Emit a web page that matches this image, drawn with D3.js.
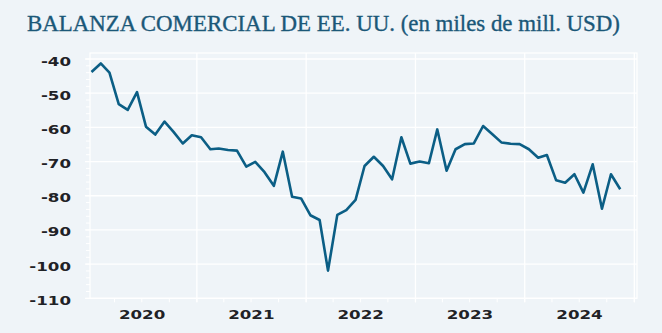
<!DOCTYPE html>
<html><head><meta charset="utf-8">
<script src="https://cdn.jsdelivr.net/npm/d3@7"></script>
<style>
html,body{margin:0;padding:0;background:#eff4f8;}
svg{display:block;}
</style></head>
<body>
<svg id="chart" width="662" height="333"></svg>
<script>
const title = "BALANZA COMERCIAL DE EE. UU. (en miles de mill. USD)";
const startYear = 2020, startMonth = 0; // first observation: Jan 2020
const values = [
  -43.8, -41.3, -44.0, -53.2, -54.9, -49.7, -59.8, -62.1, -58.3, -61.3, -64.7, -62.3,
  -62.9, -66.4, -66.2, -66.6, -66.8, -71.5, -70.1, -73.1, -77.1, -67.1, -80.3, -80.8,
  -85.7, -87.1, -101.9, -85.6, -84.2, -81.2, -71.3, -68.6, -71.3, -75.2, -62.9, -70.6,
  -70.0, -70.5, -60.6, -72.7, -66.4, -64.9, -64.7, -59.6, -62.0, -64.4, -64.8, -64.9,
  -66.4, -68.9, -68.1, -75.5, -76.2, -73.7, -79.1, -70.8, -83.8, -73.7, -78.1
];
const yTicks = [-40, -50, -60, -70, -80, -90, -100, -110];
const xTickYears = [2020, 2021, 2022, 2023, 2024];

(function(){
const data = values.map((v, i) => ({date: new Date(Date.UTC(startYear, startMonth + i, 15)), value: v}));

const svg = d3.select("#chart");
const bg = "#eff4f8";
const pL = 90, pR = 637, pT = 53, pB = 298.3;

const x = d3.scaleUtc()
  .domain([new Date(Date.UTC(2020,0,1)), new Date(Date.UTC(2025,0,1))])
  .range([87.3, 634.3]);
const y = d3.scaleLinear().domain([-110, -40]).range([pB, 59]);

svg.append("rect").attr("width",662).attr("height",333).attr("fill",bg);

// title
svg.append("text").text(title)
  .attr("x", 27).attr("y", 31)
  .attr("font-family", "'Liberation Serif', 'DejaVu Serif', serif")
  .attr("font-size", 23)
  .attr("textLength", 593)
  .attr("lengthAdjust", "spacingAndGlyphs")
  .attr("fill", "#1b5878")
  .attr("stroke", "#1b5878")
  .attr("stroke-width", 0.35);

// plot border
svg.append("rect").attr("x", pL).attr("y", pT)
  .attr("width", pR-pL).attr("height", pB-pT)
  .attr("fill", "none").attr("stroke", "#ffffff").attr("stroke-width", 1.2);

// minor y ticks
const minorY = d3.range(-110, -38, 2);
svg.append("g").selectAll("line").data(minorY).join("line")
  .attr("x1", pL-4).attr("x2", pL)
  .attr("y1", d => y(d)).attr("y2", d => y(d))
  .attr("stroke", "#ffffff").attr("stroke-width", 1);

// horizontal gridlines
svg.append("g").selectAll("line").data(yTicks).join("line")
  .attr("x1", pL-5).attr("x2", pR)
  .attr("y1", d => y(d)).attr("y2", d => y(d))
  .attr("stroke", "#ffffff").attr("stroke-width", 1.3);

// vertical gridlines at year starts
const yearStarts = d3.range(2021, 2026).map(yr => new Date(Date.UTC(yr,0,1)));
svg.append("g").selectAll("line").data(yearStarts).join("line")
  .attr("x1", d => x(d)).attr("x2", d => x(d))
  .attr("y1", pT).attr("y2", pB + 4)
  .attr("stroke", "#ffffff").attr("stroke-width", 1.3);

// quarterly minor x ticks
const quarters = d3.utcMonth.every(3).range(new Date(Date.UTC(2020,3,1)), new Date(Date.UTC(2025,0,2)));
svg.append("g").selectAll("line").data(quarters).join("line")
  .attr("x1", d => x(d)).attr("x2", d => x(d))
  .attr("y1", pB).attr("y2", pB + 4)
  .attr("stroke", "#ffffff").attr("stroke-width", 1);

const labelFont = "'DejaVu Sans', Lato, sans-serif";
const sx = 1.45;

// y labels
svg.append("g").selectAll("text").data(yTicks).join("text")
  .attr("transform", d => `translate(71,${y(d) + 6.5}) scale(${sx},1)`)
  .attr("text-anchor", "end")
  .attr("font-family", labelFont)
  .attr("font-weight", "bold")
  .attr("font-size", 11.5)
  .attr("fill", "#1f2226")
  .text(d => String(d));

// x labels (centered mid-year)
svg.append("g").selectAll("text").data(xTickYears).join("text")
  .attr("transform", d => `translate(${x(new Date(Date.UTC(d,6,2)))},318.5) scale(${sx},1)`)
  .attr("text-anchor", "middle")
  .attr("font-family", labelFont)
  .attr("font-weight", "bold")
  .attr("font-size", 11.5)
  .attr("fill", "#1f2226")
  .text(d => d);

// line
const line = d3.line().x(d => x(d.date)).y(d => y(d.value));
svg.append("path").datum(data)
  .attr("d", line)
  .attr("fill", "none")
  .attr("stroke", "#0b5e85")
  .attr("stroke-width", 2.6)
  .attr("stroke-linejoin", "round")
  .attr("stroke-linecap", "butt");
})();
</script>
</body></html>
